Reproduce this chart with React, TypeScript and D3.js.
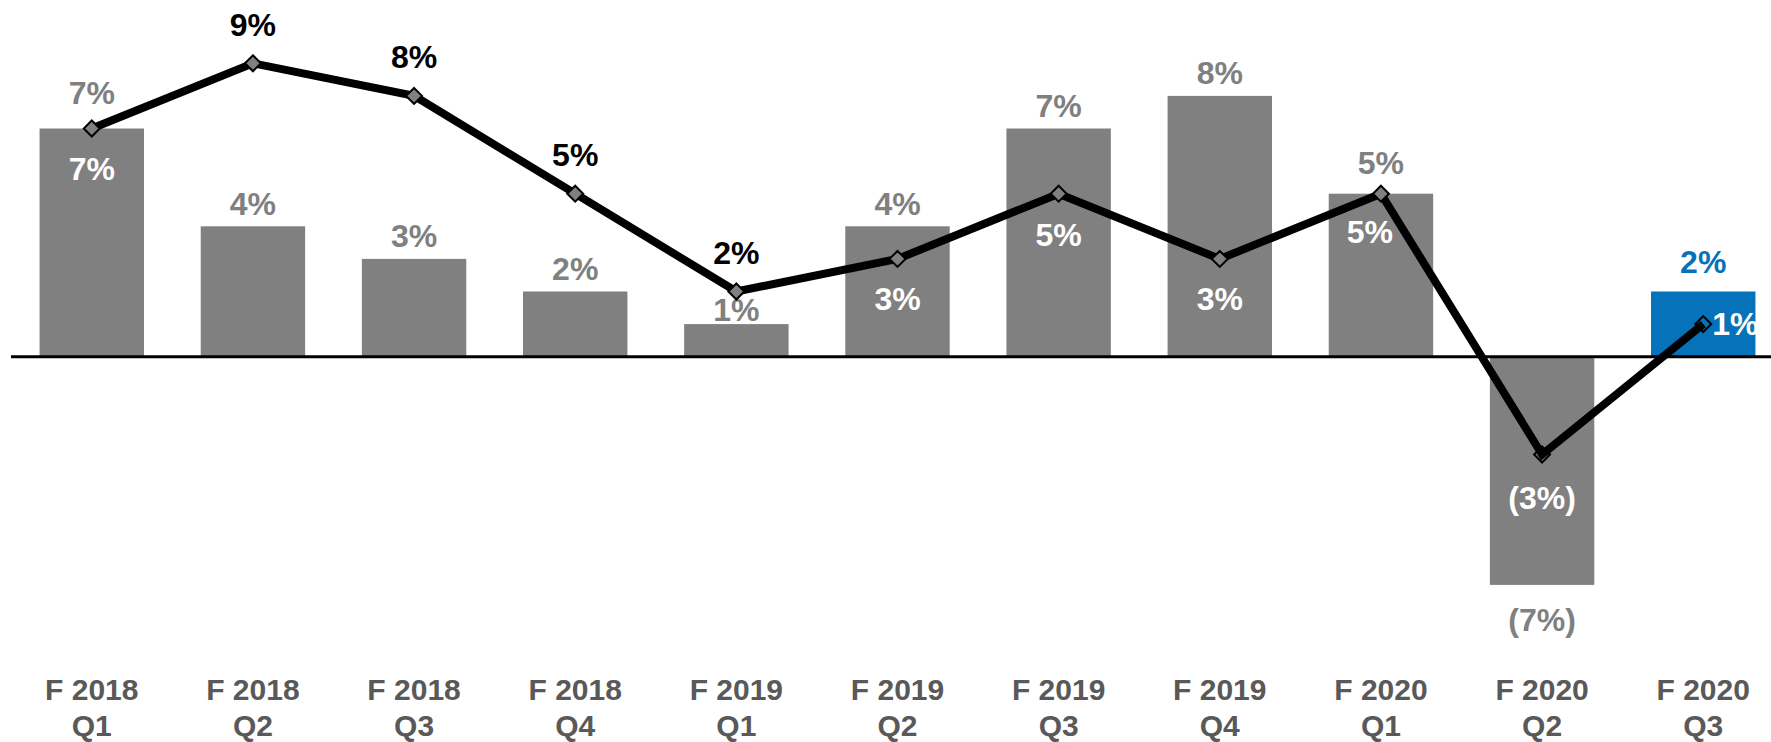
import React from "react";
import * as d3 from "d3";

// ---- data ----
const fiscalYears = ["F 2018", "F 2018", "F 2018", "F 2018", "F 2019", "F 2019", "F 2019", "F 2019", "F 2020", "F 2020", "F 2020"];
const quarters = ["Q1", "Q2", "Q3", "Q4", "Q1", "Q2", "Q3", "Q4", "Q1", "Q2", "Q3"];
const barValues = [7, 4, 3, 2, 1, 4, 7, 8, 5, -7, 2];
const lineValues = [7, 9, 8, 5, 2, 3, 5, 3, 5, -3, 1];
const highlightIndex = 10;

// ---- label layout (offsets in px, relative to mark) ----
const barLabelDy = [-36, -23, -23, -23, -15, -23, -23, -23, -31, 35, -30];
// line label placement: [dx, dy, color]
const lineLabelLayout: [number, number, string][] = [
  [0, 40, "#ffffff"],
  [0, -39, "#000000"],
  [0, -39, "#000000"],
  [0, -39, "#000000"],
  [0, -39, "#000000"],
  [0, 40, "#ffffff"],
  [0, 41, "#ffffff"],
  [0, 40, "#ffffff"],
  [-11, 38, "#ffffff"],
  [0, 43, "#ffffff"],
  [9, -1, "#ffffff"],
];

const W = 1771;
const H = 742;
const FONT = "Arial, 'Liberation Sans', Helvetica, sans-serif";
const GRAY = "#808080";
const BLUE = "#0672b9";
const AXIS_GRAY = "#595959";
const FS = 32;

const fmt = (v: number) => (v < 0 ? `(${Math.abs(v)}%)` : `${v}%`);
const capShift = FS * 0.716 * 0.5;

export default function App() {
  const idx = barValues.map((_, i) => i);
  const x = d3
    .scaleBand<number>()
    .domain(idx)
    .range([11.2, 1783.8])
    .paddingInner(0.352)
    .paddingOuter(0.176);
  const y = d3.scaleLinear().domain([-7, 9]).range([584.9, 63.3]);
  const cx = (i: number) => (x(i) as number) + x.bandwidth() / 2;

  const line = d3
    .line<number>()
    .x((_, i) => cx(i))
    .y((d) => y(d));

  const diamond = d3.symbol().type(d3.symbolDiamond2).size(2 * 9 * 9)();

  return (
    <svg
      width={W}
      height={H}
      style={{ position: "absolute", left: 0, top: 0, display: "block", background: "#fff" }}
      fontFamily={FONT}
      fontWeight="bold"
    >
      {/* bars */}
      {barValues.map((v, i) => (
        <rect
          key={`b${i}`}
          x={x(i)}
          width={x.bandwidth()}
          y={Math.min(y(v), y(0))}
          height={Math.abs(y(v) - y(0))}
          fill={i === highlightIndex ? BLUE : GRAY}
        />
      ))}
      {/* zero line */}
      <line x1={11} x2={W} y1={y(0)} y2={y(0)} stroke="#000" strokeWidth={3} />
      {/* bar labels */}
      {barValues.map((v, i) => {
        const edge = y(v);
        return (
          <text
            key={`bl${i}`}
            x={cx(i)}
            y={edge + barLabelDy[i] + capShift}
            textAnchor="middle"
            fontSize={FS}
            fill={i === highlightIndex ? BLUE : GRAY}
          >
            {fmt(v)}
          </text>
        );
      })}
      {/* line */}
      <path d={line(lineValues) || ""} fill="none" stroke="#000" strokeWidth={8} strokeLinejoin="miter" />
      {lineValues.map((v, i) => (
        <path
          key={`m${i}`}
          d={diamond || ""}
          transform={`translate(${cx(i)},${y(v)})`}
          fill={i >= lineValues.length - 2 ? "none" : GRAY}
          stroke="#000"
          strokeWidth={2}
        />
      ))}
      {/* line labels */}
      {lineValues.map((v, i) => {
        const [dx, dy, col] = lineLabelLayout[i];
        const right = i === lineValues.length - 1;
        return (
          <text
            key={`ll${i}`}
            x={cx(i) + dx}
            y={y(v) + dy + capShift}
            textAnchor={right ? "start" : "middle"}
            fontSize={FS}
            fill={col}
          >
            {fmt(v)}
          </text>
        );
      })}
      {/* category axis */}
      {idx.map((i) => (
        <text key={`ax${i}`} x={cx(i)} textAnchor="middle" fontSize={30} fill={AXIS_GRAY}>
          <tspan x={cx(i)} y={700}>
            {fiscalYears[i]}
          </tspan>
          <tspan x={cx(i)} y={736}>
            {quarters[i]}
          </tspan>
        </text>
      ))}
    </svg>
  );
}
